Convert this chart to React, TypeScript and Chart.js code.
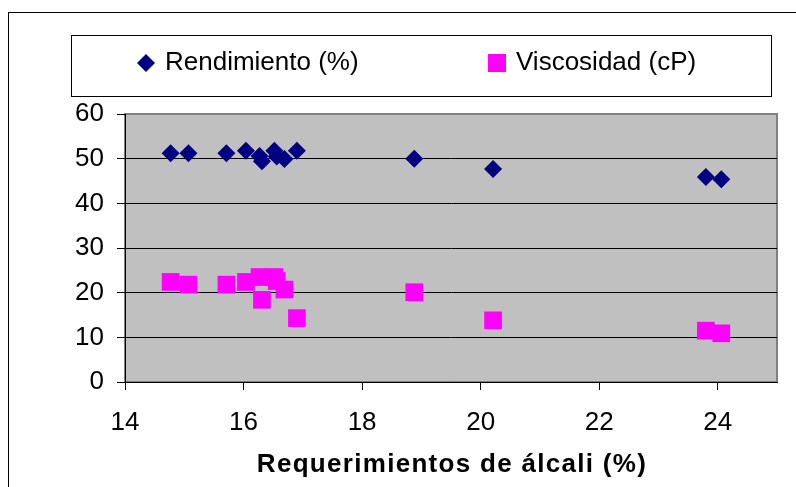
import React, { useEffect, useRef } from "react";
import { Chart, registerables } from "chart.js";

Chart.register(...registerables);

const alkali = [14.77, 15.07, 15.71, 16.04, 16.27, 16.31, 16.52, 16.56, 16.69, 16.9, 18.88, 20.21, 23.8, 24.06];
const rendimiento = [51.2, 51.2, 51.2, 51.8, 50.6, 49.4, 51.8, 50.5, 49.9, 51.8, 50.0, 47.7, 45.9, 45.4];
const viscosidad = [22.4, 21.8, 21.8, 22.4, 23.5, 18.4, 23.5, 22.6, 20.7, 14.3, 20.1, 13.8, 11.5, 10.9];

const seriesNames = ["Rendimiento (%)", "Viscosidad (cP)"];
const xTitle = "Requerimientos de álcali (%)";
const FONT = "'Liberation Sans', Arial, sans-serif";

const framePlugin = {
  id: "framePlugin",
  beforeDraw(chart: any) {
    const { ctx, chartArea: a } = chart;
    ctx.save();
    ctx.fillStyle = "#ffffff";
    ctx.fillRect(0, 0, chart.width, chart.height);
    // outer frame
    ctx.strokeStyle = "#000000";
    ctx.lineWidth = 1;
    ctx.strokeRect(8.5, 12.5, 900, 600);
    // plot area
    ctx.fillStyle = "#C0C0C0";
    ctx.fillRect(a.left, a.top, a.right - a.left, a.bottom - a.top);
    ctx.strokeStyle = "#808080";
    ctx.lineWidth = 2;
    ctx.strokeRect(a.left, a.top, a.right - a.left, a.bottom - a.top);
    ctx.restore();
  },
  afterDraw(chart: any) {
    const { ctx, chartArea: a } = chart;
    ctx.save();
    // legend box
    ctx.strokeStyle = "#000000";
    ctx.lineWidth = 1;
    ctx.strokeRect(71.5, 35.5, 700, 61);
    const cy = 63;
    const ds = chart.data.datasets;
    // diamond
    ctx.fillStyle = ds[0].backgroundColor;
    ctx.beginPath();
    ctx.moveTo(146, cy - 9);
    ctx.lineTo(155, cy);
    ctx.lineTo(146, cy + 9);
    ctx.lineTo(137, cy);
    ctx.closePath();
    ctx.fill();
    // square
    ctx.fillStyle = ds[1].backgroundColor;
    ctx.fillRect(488, cy - 9, 18, 18);
    ctx.fillStyle = "#000000";
    ctx.font = `26px ${FONT}`;
    ctx.textBaseline = "middle";
    ctx.textAlign = "left";
    ctx.fillText(ds[0].label, 165, cy);
    ctx.fillText(ds[1].label, 516, cy);
    // x axis title (letter-spaced like the original)
    ctx.font = `bold 26px ${FONT}`;
    (ctx as any).letterSpacing = "1.3px";
    ctx.textAlign = "center";
    ctx.textBaseline = "alphabetic";
    ctx.fillText(xTitle, (a.left + a.right) / 2 + 1, 472);
    ctx.restore();
  },
};

export default function App() {
  const ref = useRef<HTMLCanvasElement | null>(null);
  useEffect(() => {
    if (!ref.current) return;
    const chart = new Chart(ref.current, {
      type: "scatter",
      data: {
        datasets: [
          {
            label: seriesNames[0],
            data: alkali.map((x, i) => ({ x, y: rendimiento[i] })),
            backgroundColor: "#000080",
            borderColor: "#000080",
            borderWidth: 0,
            pointStyle: "rectRot",
            pointRadius: 9,
            pointHoverRadius: 9,
          },
          {
            label: seriesNames[1],
            data: alkali.map((x, i) => ({ x, y: viscosidad[i] })),
            backgroundColor: "#FF00FF",
            borderColor: "#FF00FF",
            borderWidth: 0,
            pointStyle: "rect",
            pointRadius: 12.5,
            pointHoverRadius: 12.5,
          },
        ],
      },
      options: {
        responsive: false,
        animation: false,
        events: [],
        layout: { padding: { top: 114, right: 19, left: 0, bottom: 0 } },
        plugins: { legend: { display: false }, tooltip: { enabled: false } },
        scales: {
          x: {
            type: "linear",
            min: 14,
            max: 25,
            ticks: {
              stepSize: 2,
              includeBounds: false,
              color: "#000000",
              font: { family: FONT, size: 26 },
              padding: 17,
              maxRotation: 0,
            },
            grid: {
              drawOnChartArea: false,
              color: "#000000",
              tickColor: "#000000",
              tickLength: 8,
            },
            border: { display: true, color: "#000000", width: 1 },
            title: { display: false },
            afterFit: (s: any) => {
              s.height = 105;
            },
          },
          y: {
            type: "linear",
            min: 0,
            max: 60,
            ticks: {
              stepSize: 10,
              color: "#000000",
              font: { family: FONT, size: 26 },
              padding: 13,
            },
            grid: {
              color: (c: any) => (c.tick && c.tick.value === 60 ? "rgba(0,0,0,0)" : "#000000"),
              tickColor: "#000000",
              tickLength: 8,
              lineWidth: 1,
            },
            border: { display: true, color: "#000000", width: 1 },
            afterFit: (s: any) => {
              s.width = 125;
            },
          },
        },
      },
      plugins: [framePlugin],
    } as any);
    return () => chart.destroy();
  }, []);
  return (
    <div style={{ position: "fixed", left: 0, top: 0, width: 796, height: 487, background: "#fff" }}>
      <canvas ref={ref} width={796} height={487} style={{ display: "block" }} />
    </div>
  );
}
